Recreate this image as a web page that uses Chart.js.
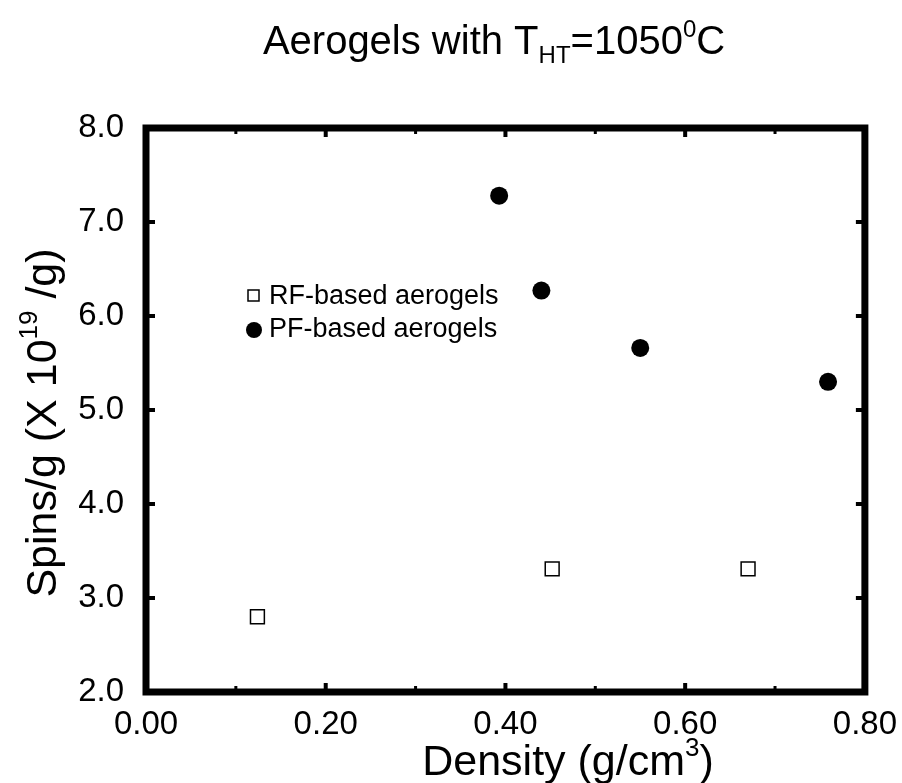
<!DOCTYPE html>
<html>
<head>
<meta charset="utf-8">
<script src="https://cdn.jsdelivr.net/npm/chart.js@4.4.1/dist/chart.umd.min.js"></script>
<style>
  html, body { margin: 0; padding: 0; background: #fff; }
  canvas { display: block; }
</style>
</head>
<body>
<canvas id="chart" width="902" height="783"></canvas>
<script>
// 데이터
const seriesNames = ['RF-based aerogels', 'PF-based aerogels'];
const rfDensity = [0.124, 0.452, 0.670];
const rfSpins   = [2.80, 3.31, 3.31];
const pfDensity = [0.393, 0.440, 0.550, 0.759];
const pfSpins   = [7.28, 6.27, 5.66, 5.30];
const xTicks = [0.00, 0.20, 0.40, 0.60, 0.80];
const xMinorTicks = [0.10, 0.30, 0.50, 0.70];
const yTicks = [2.0, 3.0, 4.0, 5.0, 6.0, 7.0, 8.0];

const FONT = '"Liberation Sans", Arial, Helvetica, sans-serif';

// 위/아래 첨자가 섞인 텍스트 그리기
function richWidth(ctx, parts) {
    let w = 0;
    parts.forEach(p => {
        ctx.font = p.s + 'px ' + FONT;
        w += ctx.measureText(p.t).width;
    });
    return w;
}
function drawRich(ctx, parts, x, y) {
    const w = richWidth(ctx, parts);
    let cx = x - w / 2;
    ctx.textAlign = 'left';
    ctx.textBaseline = 'alphabetic';
    ctx.fillStyle = '#000';
    parts.forEach(p => {
        ctx.font = p.s + 'px ' + FONT;
        ctx.fillText(p.t, cx, y + (p.dy || 0));
        cx += ctx.measureText(p.t).width;
    });
}

function toPoints(xs, ys) {
    return xs.map((x, i) => ({ x: x, y: ys[i] }));
}

// 프레임, 안쪽 눈금, 제목, 범례
const decorations = {
    id: 'decorations',
    afterDraw(chart) {
        const ctx = chart.ctx;
        const a = chart.chartArea;
        const xs = chart.scales.x;
        const ys = chart.scales.y;
        ctx.save();

        // 안쪽 눈금
        ctx.strokeStyle = '#000';
        ctx.lineCap = 'butt';
        ctx.lineWidth = 4;
        xTicks.forEach(v => {
            const px = xs.getPixelForValue(v);
            ctx.beginPath();
            ctx.moveTo(px, a.bottom); ctx.lineTo(px, a.bottom - 9);
            ctx.moveTo(px, a.top); ctx.lineTo(px, a.top + 9);
            ctx.stroke();
        });
        yTicks.forEach(v => {
            const py = ys.getPixelForValue(v);
            ctx.beginPath();
            ctx.moveTo(a.left, py); ctx.lineTo(a.left + 9, py);
            ctx.moveTo(a.right, py); ctx.lineTo(a.right - 9, py);
            ctx.stroke();
        });
        ctx.lineWidth = 3;
        xMinorTicks.forEach(v => {
            const px = xs.getPixelForValue(v);
            ctx.beginPath();
            ctx.moveTo(px, a.bottom); ctx.lineTo(px, a.bottom - 6);
            ctx.moveTo(px, a.top); ctx.lineTo(px, a.top + 6);
            ctx.stroke();
        });

        // 굵은 테두리
        ctx.lineWidth = 7;
        ctx.lineJoin = 'miter';
        ctx.strokeRect(a.left, a.top, a.right - a.left, a.bottom - a.top);

        // 제목
        drawRich(ctx, [
            { t: 'Aerogels with T', s: 40 },
            { t: 'HT', s: 24, dy: 9 },
            { t: '=1050', s: 40 },
            { t: '0', s: 24, dy: -17 },
            { t: 'C', s: 40 }
        ], 494, 54);

        // x축 제목
        drawRich(ctx, [
            { t: 'Density (g/cm', s: 43 },
            { t: '3', s: 26, dy: -19 },
            { t: ')', s: 43 }
        ], 568, 775);

        // y축 제목
        ctx.save();
        ctx.translate(56, 423);
        ctx.rotate(-Math.PI / 2);
        drawRich(ctx, [
            { t: 'Spins/g (X 10', s: 43 },
            { t: '19', s: 26, dy: -19 },
            { t: ' /g)', s: 43 }
        ], 0, 0);
        ctx.restore();

        // 범례
        ctx.font = '27px ' + FONT;
        ctx.textAlign = 'left';
        ctx.textBaseline = 'middle';
        ctx.fillStyle = '#000';
        ctx.lineWidth = 1.5;
        ctx.strokeRect(248, 290, 11, 11);
        ctx.fillText(seriesNames[0], 269, 297);
        ctx.beginPath();
        ctx.arc(254, 330, 8, 0, Math.PI * 2);
        ctx.fill();
        ctx.fillText(seriesNames[1], 269, 330);

        ctx.restore();
    }
};

new Chart(document.getElementById('chart'), {
    type: 'scatter',
    data: {
        datasets: [{
            label: seriesNames[0],
            data: toPoints(rfDensity, rfSpins),
            pointStyle: 'rect',
            pointRadius: 9.8,
            pointHoverRadius: 9.8,
            backgroundColor: '#fff',
            borderColor: '#000',
            borderWidth: 1.5
        }, {
            label: seriesNames[1],
            data: toPoints(pfDensity, pfSpins),
            pointStyle: 'circle',
            pointRadius: 9,
            pointHoverRadius: 9,
            backgroundColor: '#000',
            borderColor: '#000',
            borderWidth: 0
        }]
    },
    options: {
        responsive: false,
        animation: false,
        layout: {
            padding: { left: 0, top: 128, right: 35, bottom: 0 }
        },
        plugins: {
            legend: { display: false },
            tooltip: { enabled: false },
            title: { display: false }
        },
        scales: {
            x: {
                type: 'linear',
                min: 0,
                max: 0.8,
                afterBuildTicks: s => { s.ticks = xTicks.map(v => ({ value: v })); },
                afterFit: s => { s.height = 91; },
                grid: { display: false },
                border: { display: false },
                ticks: {
                    color: '#000',
                    padding: 5,
                    maxRotation: 0,
                    font: { family: FONT, size: 33 },
                    callback: v => v.toFixed(2)
                }
            },
            y: {
                type: 'linear',
                min: 2,
                max: 8,
                afterBuildTicks: s => { s.ticks = yTicks.map(v => ({ value: v })); },
                afterFit: s => { s.width = 146; },
                grid: { display: false },
                border: { display: false },
                ticks: {
                    color: '#000',
                    padding: 14,
                    font: { family: FONT, size: 33 },
                    callback: v => v.toFixed(1)
                }
            }
        }
    },
    plugins: [decorations]
});
</script>
</body>
</html>
